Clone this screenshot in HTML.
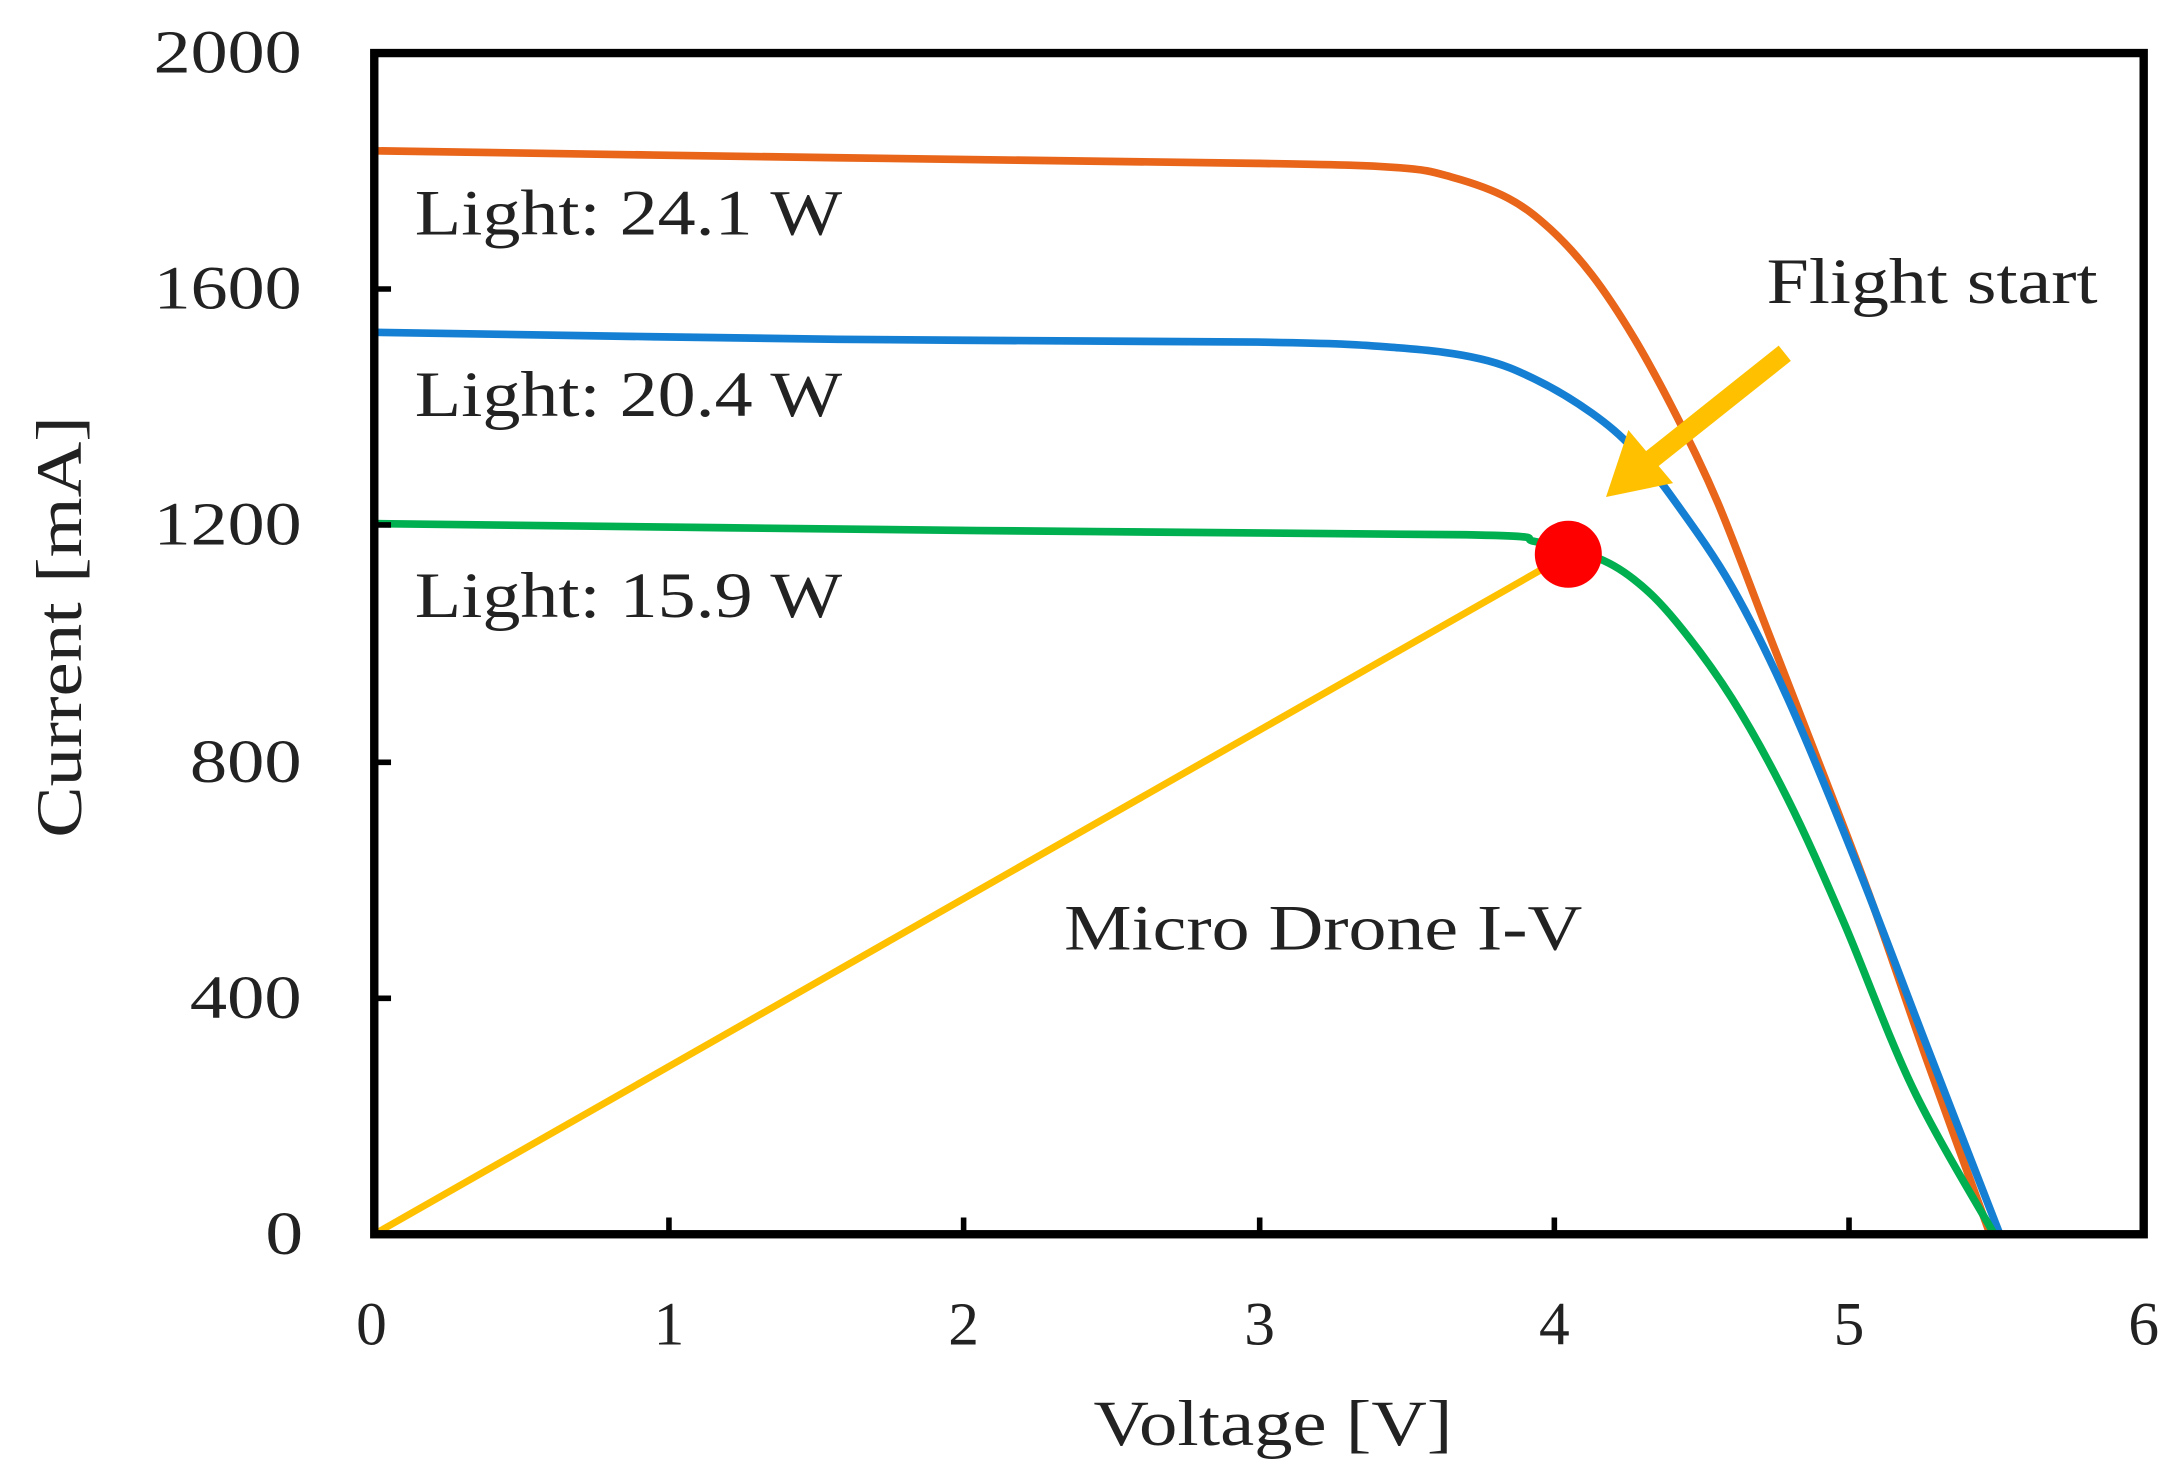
<!DOCTYPE html>
<html><head><meta charset="utf-8"><style>
html,body{margin:0;padding:0;background:#fff;}
svg{display:block;}
text{font-family:"Liberation Serif",serif;fill:#222;}
</style></head><body>
<svg width="2180" height="1473" viewBox="0 0 1561 1055" preserveAspectRatio="none" xmlns="http://www.w3.org/2000/svg">
<rect width="1561" height="1055" fill="#fff"/>
<path id="po" fill="none" stroke="#E8651A" stroke-width="5.5" stroke-linejoin="round" d=""/>
<path id="pb" fill="none" stroke="#1580D3" stroke-width="5.5" stroke-linejoin="round" d=""/>
<path id="pg" fill="none" stroke="#00B050" stroke-width="5.5" stroke-linejoin="round" d=""/>
<line x1="268" y1="884" x2="1123" y2="397" stroke="#FFC000" stroke-width="5"/>
<circle cx="1123" cy="397" r="24" fill="#FF0000"/>
<line x1="1278" y1="253" x2="1180" y2="331" stroke="#FFC000" stroke-width="14"/>
<polygon points="1150,356 1166,308 1198,346" fill="#FFC000"/>
<rect x="268" y="38" width="1267" height="846" fill="none" stroke="#000" stroke-width="6"/>
<g stroke="#000" stroke-width="4">
<line x1="479" y1="884" x2="479" y2="872"/><line x1="690" y1="884" x2="690" y2="872"/>
<line x1="902" y1="884" x2="902" y2="872"/><line x1="1113" y1="884" x2="1113" y2="872"/>
<line x1="1324" y1="884" x2="1324" y2="872"/>
<line x1="268" y1="715" x2="280" y2="715"/><line x1="268" y1="546" x2="280" y2="546"/>
<line x1="268" y1="376" x2="280" y2="376"/><line x1="268" y1="207" x2="280" y2="207"/>
</g>
<g font-size="44">
<text x="190" y="898" textLength="27" lengthAdjust="spacingAndGlyphs">0</text>
<text x="136" y="729" textLength="80" lengthAdjust="spacingAndGlyphs">400</text>
<text x="136" y="560" textLength="80" lengthAdjust="spacingAndGlyphs">800</text>
<text x="110" y="390" textLength="106" lengthAdjust="spacingAndGlyphs">1200</text>
<text x="110" y="221" textLength="106" lengthAdjust="spacingAndGlyphs">1600</text>
<text x="110" y="52" textLength="106" lengthAdjust="spacingAndGlyphs">2000</text>
</g>
<g font-size="44" text-anchor="middle">
<text x="266" y="963">0</text><text x="479" y="963">1</text><text x="690" y="963">2</text>
<text x="902" y="963">3</text><text x="1113" y="963">4</text><text x="1324" y="963">5</text><text x="1535" y="963">6</text>
</g>
<text x="783" y="1035" font-size="46" textLength="257" lengthAdjust="spacingAndGlyphs">Voltage [V]</text>
<text transform="translate(58,600) rotate(-90)" font-size="46" textLength="302" lengthAdjust="spacingAndGlyphs">Current  [mA]</text>
<g font-size="46">
<text x="297" y="168" textLength="306" lengthAdjust="spacingAndGlyphs">Light: 24.1 W</text>
<text x="297" y="298" textLength="306" lengthAdjust="spacingAndGlyphs">Light: 20.4 W</text>
<text x="297" y="442" textLength="306" lengthAdjust="spacingAndGlyphs">Light: 15.9 W</text>
<text x="1265" y="217" textLength="237" lengthAdjust="spacingAndGlyphs">Flight start</text>
<text x="762" y="680" textLength="371" lengthAdjust="spacingAndGlyphs">Micro Drone I-V</text>
</g>
</svg>
<script>
function cr(p){var d="M"+p[0][0]+","+p[0][1];for(var i=0;i<p.length-1;i++){var a=p[i-1]||p[i],b=p[i],c=p[i+1],e=p[i+2]||c;
d+=" C"+(b[0]+(c[0]-a[0])/6)+","+(b[1]+(c[1]-a[1])/6)+" "+(c[0]-(e[0]-b[0])/6)+","+(c[1]-(e[1]-b[1])/6)+" "+c[0]+","+c[1];}return d;}
document.getElementById("po").setAttribute("d",cr([[268,108],[600,113],[900,117],[1000,120],[1040,127],[1080,142],[1110,164],[1140,197],[1170,242],[1200,297],[1230,360],[1265,450],[1300,540],[1340,645],[1380,760],[1425,884]]));
document.getElementById("pb").setAttribute("d",cr([[268,238],[600,243],[900,245],[1000,249],[1060,257],[1100,272],[1140,296],[1170,322],[1200,360],[1240,420],[1280,500],[1330,620],[1380,750],[1432,884]]));
document.getElementById("pg").setAttribute("d",cr([[268,375],[700,380],[1050,383],[1100,388],[1140,398],[1170,415],[1200,445],[1240,500],[1280,572],[1320,660],[1370,780],[1428,884]]));
</script>
</body></html>
